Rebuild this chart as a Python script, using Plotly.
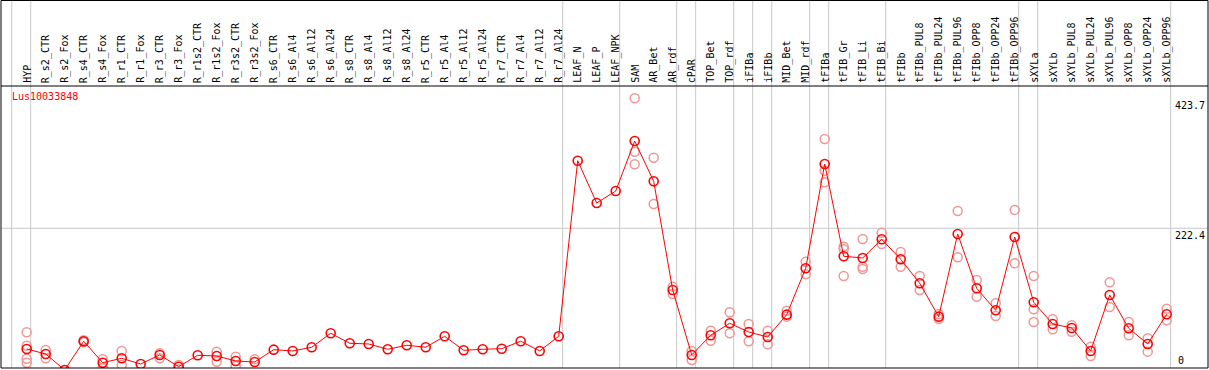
import plotly.graph_objects as go

categories = ["HYP", "R_s2_CTR", "R_s2_Fox", "R_s4_CTR", "R_s4_Fox", "R_r1_CTR", "R_r1_Fox",
              "R_r3_CTR", "R_r3_Fox", "R_r1s2_CTR", "R_r1s2_Fox", "R_r3s2_CTR", "R_r3s2_Fox",
              "R_s6_CTR", "R_s6_Al4", "R_s6_Al12", "R_s6_Al24", "R_s8_CTR", "R_s8_Al4", "R_s8_Al12",
              "R_s8_Al24", "R_r5_CTR", "R_r5_Al4", "R_r5_Al12", "R_r5_Al24", "R_r7_CTR", "R_r7_Al4",
              "R_r7_Al12", "R_r7_Al24", "LEAF_N", "LEAF_P", "LEAF_NPK", "SAM", "AR_Bet", "AR_rdf",
              "cPAR", "TOP_Bet", "TOP_rdf", "iFIBa", "iFIBb", "MID_Bet", "MID_rdf", "tFIBa",
              "tFIB_Gr", "tFIB_Li", "tFIB_Bi", "tFIBb", "tFIBb_PUL8", "tFIBb_PUL24", "tFIBb_PUL96",
              "tFIBb_OPP8", "tFIBb_OPP24", "tFIBb_OPP96", "sXYLa", "sXYLb", "sXYLb_PUL8",
              "sXYLb_PUL24", "sXYLb_PUL96", "sXYLb_OPP8", "sXYLb_OPP24", "sXYLb_OPP96"]

means = [35.5, 27.7, 3.0, 47.4, 14.2, 21.0, 12.2, 26.2, 8.0, 25.7,
         24.6, 16.9, 15.3, 34.4, 32.4, 38.1, 59.8, 44.3, 43.2, 35.0,
         41.2, 38.1, 55.1, 33.4, 35.0, 35.9, 47.4, 32.4, 55.1,
         327.0, 261.5, 280.0, 357.5, 295.1, 126.8, 26.2, 56.6, 75.2, 61.8,
         54.0, 88.6, 160.4, 321.9, 179.0, 176.4, 205.3, 174.4, 137.2, 85.5,
         213.5, 129.4, 95.4, 208.9, 107.8, 74.2, 68.0, 32.4, 119.1, 67.5,
         43.2, 89.2]

replicates = [[61.3, 40.6, 20.4, 14.2], [33.9, 21.0], [], [49.0, 46.0], [19.5, 5.5],
              [32.4, 10.7], [], [28.8, 21.0], [10.7, 4.0], [], [31.3, 15.8], [23.5, 9.1],
              [19.5], [], [], [], [], [], [], [], [], [], [], [], [], [], [], [], [],
              [], [], [], [423.7, 341.0, 321.4], [331.7, 260.0], [132.0, 120.6],
              [32.4, 18.4], [63.8, 48.3], [92.3, 59.8], [74.2, 47.4], [63.8, 42.7],
              [94.8, 85.5], [170.6, 151.1], [360.6, 311.6, 293.6], [193.9, 189.8, 148.5],
              [205.8, 162.9, 159.3], [215.5, 198.0], [185.7, 162.9], [148.5, 126.8],
              [89.2, 81.9], [249.2, 177.5], [142.3, 116.4], [106.2, 86.6], [250.7, 168.2],
              [148.5, 96.9, 77.3], [81.4, 66.0], [72.2, 62.2], [39.0, 24.6], [138.7, 100.5],
              [77.3, 56.6], [52.0, 31.3], [97.9, 79.9]]

group_ends = [-1, 0, 28, 31, 34, 35, 37, 38, 39, 41, 42, 45, 52, 53, 60]
y_labels = [423.7, 222.4, 0]
title = "Lus10033848"

W, H = 1209, 370
TOP, BOTTOM, LEFT, RIGHT = 86, 2, 1, 1
PX0, STEP = 26.7, 19.0
x_range = [(LEFT - PX0) / STEP, (W - RIGHT - PX0) / STEP]
y_range = [6.0, 442.7]
plot_h = H - TOP - BOTTOM
top_paper = (H - BOTTOM - 0.5) / plot_h

xs = list(range(len(categories)))
rep_x, rep_y = [], []
for i, reps in enumerate(replicates):
    for r in reps:
        rep_x.append(i)
        rep_y.append(r)

fig = go.Figure()
fig.add_trace(go.Scatter(x=rep_x, y=rep_y, mode="markers",
                         marker=dict(symbol="circle-open", size=9, color="rgb(240,150,150)",
                                     line=dict(width=1.5)),
                         hoverinfo="skip", showlegend=False))
fig.add_trace(go.Scatter(x=xs, y=means, mode="lines+markers",
                         line=dict(color="red", width=1),
                         marker=dict(symbol="circle-open", size=9, color="red",
                                     line=dict(width=1.6)),
                         showlegend=False))

shapes = []
for g in group_ends:
    xv = g + 4.0 / STEP
    shapes.append(dict(type="line", xref="x", yref="paper", x0=xv, x1=xv, y0=0, y1=top_paper,
                       line=dict(color="#c8c8c8", width=1), layer="below"))
shapes.append(dict(type="line", xref="paper", yref="y", x0=0, x1=1, y0=y_labels[1], y1=y_labels[1],
                   line=dict(color="#c8c8c8", width=1), layer="below"))
# frames
shapes.append(dict(type="rect", xref="paper", yref="paper", x0=0, x1=1, y0=0, y1=top_paper,
                   line=dict(color="black", width=1)))
shapes.append(dict(type="line", xref="paper", yref="paper", x0=0, x1=1, y0=1, y1=1,
                   line=dict(color="black", width=1)))

mono = "DejaVu Sans Mono"
annotations = []
for i, c in enumerate(categories):
    annotations.append(dict(x=i, xref="x", y=1, yref="paper", text=c, showarrow=False,
                            textangle=-90, xanchor="center", yanchor="bottom", yshift=1,
                            font=dict(family=mono, size=10, color="black")))
annotations.append(dict(x=(10 - LEFT) / (W - LEFT - RIGHT), xref="paper", y=1, yref="paper",
                        text=title, showarrow=False, xanchor="left", yanchor="top", yshift=-3,
                        font=dict(family=mono, size=10, color="red")))
for v in y_labels[:2]:
    annotations.append(dict(x=1, xref="paper", y=v, yref="y", text=str(v), showarrow=False,
                            xanchor="right", yanchor="top", xshift=-1,
                            font=dict(family=mono, size=10, color="black")))
annotations.append(dict(x=1, xref="paper", y=0, yref="paper", text=str(y_labels[2]), showarrow=False,
                        xanchor="right", yanchor="bottom", xshift=-22, yshift=0,
                        font=dict(family=mono, size=10, color="black")))

fig.update_layout(width=W, height=H, margin=dict(l=LEFT, r=RIGHT, t=TOP, b=BOTTOM, pad=0),
                  paper_bgcolor="white", plot_bgcolor="white",
                  shapes=shapes, annotations=annotations,
                  xaxis=dict(range=x_range, showgrid=False, zeroline=False, showticklabels=False,
                             ticks=""),
                  yaxis=dict(range=y_range, showgrid=False, zeroline=False, showticklabels=False,
                             ticks=""))
fig.write_html("out.html", config={"displayModeBar": False},
               post_script="document.body.style.margin='0';document.body.style.padding='0';"
                           "document.body.style.overflow='hidden';")
